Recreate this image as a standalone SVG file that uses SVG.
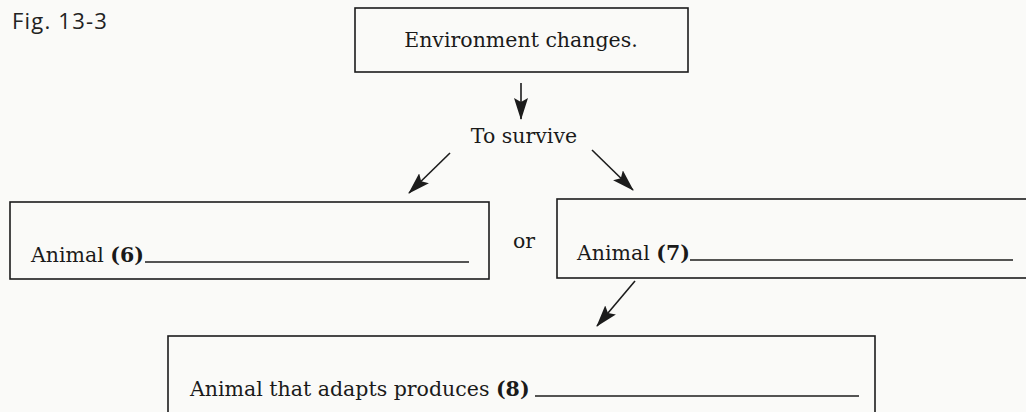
<svg xmlns="http://www.w3.org/2000/svg" width="1026" height="412" viewBox="0 0 1026 412">
  <style>
    .box { fill: none; stroke: #1c1c1c; stroke-width: 1.6; }
    .t { font-family: "DejaVu Serif", "Liberation Serif", serif; font-size: 20.5px; fill: #1a1a1a; }
    .b { font-weight: bold; }
    .fig { font-family: "Open Sans", "Noto Sans", sans-serif; font-size: 22px; fill: #222; }
    .ul { stroke: #1c1c1c; stroke-width: 1.4; }
    .conn { stroke: #1c1c1c; stroke-width: 1.6; fill: none; marker-end: url(#arr); }
  </style>
  <defs>
    <marker id="arr" viewBox="0 0 22 14" refX="21" refY="7" markerWidth="22" markerHeight="14" markerUnits="userSpaceOnUse" orient="auto">
      <path d="M0,0 L22,7 L0,14 L4,7 z" fill="#1c1c1c"/>
    </marker>
  </defs>
  <rect x="0" y="0" width="1026" height="412" fill="#fafaf8"/>

  <text class="fig" x="12" y="29" letter-spacing="1.2">Fig. 13-3</text>

  <g id="node-environment">
    <rect class="box" x="355" y="8" width="333" height="64"/>
    <text class="t" x="521" y="47" text-anchor="middle">Environment changes.</text>
  </g>

  <g id="node-survive">
    <text class="t" x="524" y="143" text-anchor="middle">To survive</text>
  </g>

  <g id="node-animal6">
    <rect class="box" x="10" y="202" width="479" height="77"/>
    <text class="t" x="31" y="262">Animal <tspan class="b">(6)</tspan></text>
    <line class="ul" x1="145" y1="262" x2="469" y2="262"/>
  </g>

  <g id="label-or">
    <text class="t" x="513" y="248">or</text>
  </g>

  <g id="node-animal7">
    <rect class="box" x="557" y="199" width="475" height="79"/>
    <text class="t" x="577" y="260">Animal <tspan class="b">(7)</tspan></text>
    <line class="ul" x1="690" y1="260" x2="1013" y2="260"/>
  </g>

  <g id="node-animal8">
    <rect class="box" x="168" y="336" width="707" height="82"/>
    <text class="t" x="190" y="396" font-size="21">Animal that adapts produces <tspan class="b">(8)</tspan></text>
    <line class="ul" x1="535" y1="396" x2="859" y2="396"/>
  </g>

  <g id="connectors">
    <line class="conn" x1="521" y1="83" x2="521" y2="119"/>
    <line class="conn" x1="450" y1="153" x2="409" y2="193"/>
    <line class="conn" x1="592" y1="150" x2="633" y2="190"/>
    <line class="conn" x1="635" y1="281" x2="597" y2="326"/>
  </g>
</svg>
